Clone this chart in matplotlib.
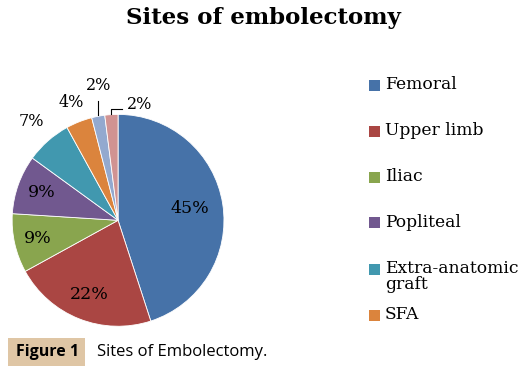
import numpy as np
import matplotlib
matplotlib.use("Agg")
import matplotlib.pyplot as plt
from matplotlib.patches import Rectangle

# data
labels = ["Femoral", "Upper limb", "Iliac", "Popliteal", "Extra-anatomic\ngraft", "SFA", "Other 1", "Other 2"]
values = [45, 22, 9, 9, 7, 4, 2, 2]
colors = ["#4672a8", "#aa4643", "#89a54e", "#71588f", "#4198af", "#db843d", "#93a9cf", "#d19392"]
shown = 6   # only the first six legend entries fit in the picture

# per-label radial distance (inside / outside the pie)
label_r = [0.69, 0.75, 0.78, 0.77, 1.24, 1.20, 1.25, 1.16]

serif = "DejaVu Serif"

fig = plt.figure(figsize=(5.27, 3.75), dpi=100)
fig.patch.set_facecolor("white")

ax = fig.add_axes([0.023, 0.130, 0.402, 0.565])
wedges, _ = ax.pie(values, colors=colors, startangle=90, counterclock=False,
                   radius=1, wedgeprops=dict(edgecolor="white", linewidth=0.6))
ax.set_xlim(-1, 1)
ax.set_ylim(-1, 1)
ax.set_aspect("equal")
ax.axis("off")

total = float(sum(values))
start = 90.0
for i, v in enumerate(values):
    span = 360.0 * v / total
    mid = np.deg2rad(start - span / 2)
    start -= span
    txt = "%d%%" % v
    x, y = np.cos(mid), np.sin(mid)
    if i == 6:
        # leader straight up from the slice
        ax.plot([x, x], [y + 0.01, y + 0.14], color="black", lw=0.8, clip_on=False)
        ax.text(x, 1.27, txt, ha="center", va="center", fontsize=11.5,
                family=serif, clip_on=False)
    elif i == 7:
        # elbow leader: up, then to the right
        ax.plot([x, x, x + 0.10], [y + 0.01, y + 0.05, y + 0.05],
                color="black", lw=0.8, clip_on=False)
        ax.text(x + 0.27, y + 0.10, txt, ha="center", va="center",
                fontsize=11.5, family=serif, clip_on=False)
    else:
        r = label_r[i]
        fs = 12.5 if i < 4 else 11.5
        ax.text(x * r, y * r, txt, ha="center", va="center", fontsize=fs,
                family=serif, clip_on=False)

# title
fig.text(0.50, 0.952, "Sites of embolectomy", ha="center", va="center",
         fontsize=16.5, fontweight="bold", family=serif)

# legend, drawn by hand so the two-line entry sits like the original
W, H = 527.0, 375.0
y0 = 85
step = 46
for i in range(shown):
    yc = y0 + i * step
    fig.patches.append(Rectangle((369 / W, 1 - (yc + 5.5) / H), 11 / W, 11 / H,
                                 transform=fig.transFigure, facecolor=colors[i],
                                 edgecolor="none"))
    fig.text(385 / W, 1 - (yc - 9) / H, labels[i], ha="left", va="top",
             fontsize=12.3, family=serif, linespacing=0.95)

# caption
fig.patches.append(Rectangle((8 / W, 1 - 366 / H), 77 / W, 28 / H,
                             transform=fig.transFigure, facecolor="#dfc6a5",
                             edgecolor="none"))
fig.text(16 / W, 1 - 352 / H, "Figure 1", ha="left", va="center",
         fontsize=11.5, fontweight="bold", family="Open Sans")
fig.text(97 / W, 1 - 352 / H, "Sites of Embolectomy.", ha="left", va="center",
         fontsize=12, family="Open Sans")

fig.savefig("out.png", dpi=100)
